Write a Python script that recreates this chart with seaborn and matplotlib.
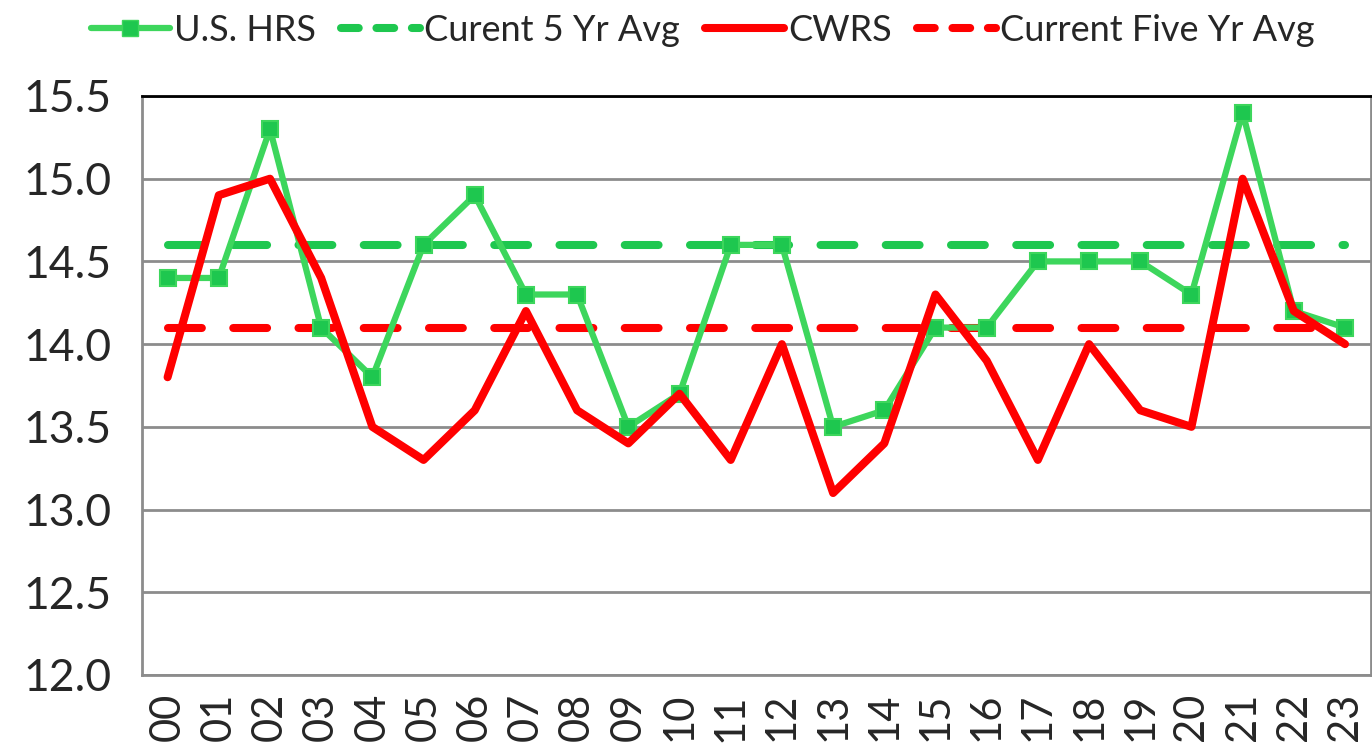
import numpy as np
import pandas as pd
import matplotlib
matplotlib.use("Agg")
import matplotlib.pyplot as plt
import seaborn as sns
from matplotlib.lines import Line2D

years = ["00", "01", "02", "03", "04", "05", "06", "07", "08", "09", "10", "11",
         "12", "13", "14", "15", "16", "17", "18", "19", "20", "21", "22", "23"]
us_hrs = [14.4, 14.4, 15.3, 14.1, 13.8, 14.6, 14.9, 14.3, 14.3, 13.5, 13.7, 14.6,
          14.6, 13.5, 13.6, 14.1, 14.1, 14.5, 14.5, 14.5, 14.3, 15.4, 14.2, 14.1]
cwrs = [13.8, 14.9, 15.0, 14.4, 13.5, 13.3, 13.6, 14.2, 13.6, 13.4, 13.7, 13.3,
        14.0, 13.1, 13.4, 14.3, 13.9, 13.3, 14.0, 13.6, 13.5, 15.0, 14.2, 14.0]
hrs_avg = [14.6] * len(years)
cwrs_avg = [14.1] * len(years)

df = pd.DataFrame({"year": years, "hrs": us_hrs, "cwrs": cwrs,
                   "hrs_avg": hrs_avg, "cwrs_avg": cwrs_avg})

sns.set_theme(style="white")
plt.rcParams["font.family"] = ["Lato", "DejaVu Sans"]

green_line = "#3dd65c"
green_mark = "#1ec74f"
red = "#ff0000"

fig = plt.figure(figsize=(13.72, 7.47), dpi=100)
ax = fig.add_axes([0.1035, 0.0964, 0.8955, 0.7751])

dash = (0, (4.2, 3.9))
sns.lineplot(data=df, x="year", y="hrs_avg", ax=ax, color=green_mark, lw=5.8,
             linestyle=dash, dash_capstyle="round", sort=False)
sns.lineplot(data=df, x="year", y="cwrs_avg", ax=ax, color=red, lw=5.8,
             linestyle=dash, dash_capstyle="round", sort=False)
sns.lineplot(data=df, x="year", y="hrs", ax=ax, color=green_line, lw=4.5,
             marker="s", markersize=11, markerfacecolor=green_mark,
             markeredgecolor=green_line, markeredgewidth=1.5, sort=False)
sns.lineplot(data=df, x="year", y="cwrs", ax=ax, color=red, lw=5.8, sort=False)

ax.set_xlim(-0.5, len(years) - 0.5)
ax.set_ylim(12.0, 15.5)
ax.set_yticks(np.arange(12.0, 15.51, 0.5))
ax.set_yticklabels([f"{v:.1f}" for v in np.arange(12.0, 15.51, 0.5)], fontsize=32)
ax.set_xticks(range(len(years)))
ax.set_xticklabels(years, rotation=90, fontsize=30)
ax.set_xticks(np.arange(-0.5, len(years), 1), minor=True)
ax.tick_params(axis="x", which="major", length=0, pad=13)
ax.tick_params(axis="x", which="minor", length=10, width=2, color="#8c8c8c", direction="out")
ax.tick_params(axis="y", length=10, width=2, color="#8c8c8c", direction="out", pad=12)
ax.set_xlabel("")
ax.set_ylabel("")
ax.yaxis.grid(True, color="#8c8c8c", lw=2)
ax.set_axisbelow(True)
for side in ["left", "bottom", "right"]:
    ax.spines[side].set_color("#8c8c8c")
    ax.spines[side].set_linewidth(2)
ax.spines["top"].set_color("black")
ax.spines["top"].set_linewidth(2)

handles = [
    Line2D([0], [0], color=green_line, lw=4.5, marker="s", markersize=11,
           markerfacecolor=green_mark, markeredgecolor=green_line),
    Line2D([0], [0], color=green_mark, lw=5.8, linestyle=(0, (2.2, 2.2)),
           dash_capstyle="round", marker="o", markersize=4),
    Line2D([0], [0], color=red, lw=5.8),
    Line2D([0], [0], color=red, lw=5.8, linestyle=(0, (2.2, 2.2)),
           dash_capstyle="round", marker="o", markersize=4),
]
labels = ["U.S. HRS", "Curent 5 Yr Avg", "CWRS", "Current Five Yr Avg"]
fig.legend(handles, labels, loc="upper center", bbox_to_anchor=(0.512, 1.025),
           ncol=4, frameon=False, fontsize=26, handlelength=2.2,
           handletextpad=0.1, columnspacing=0.7)

fig.savefig("out.png", dpi=100)
